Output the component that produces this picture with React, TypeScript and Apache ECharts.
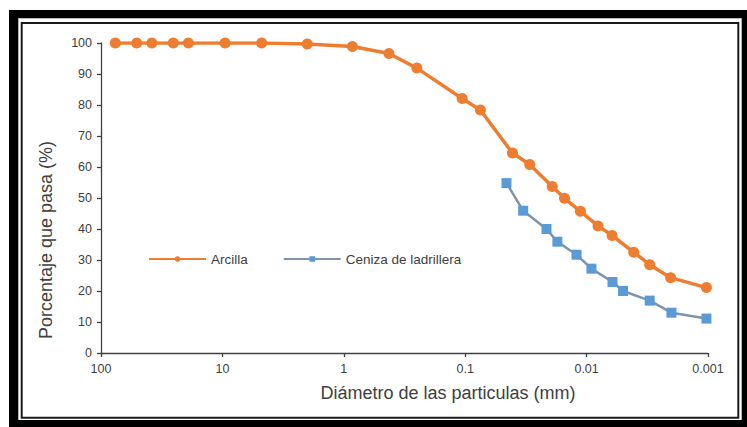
import React, { useEffect, useRef } from "react";
import * as echarts from "echarts";

const arcillaDiam = [76.2, 50.8, 38.1, 25.4, 19.05, 9.5, 4.75, 2.0, 0.85, 0.425, 0.25, 0.106, 0.075, 0.0408, 0.0294, 0.0192, 0.0152, 0.01124, 0.00805, 0.00617, 0.00409, 0.00302, 0.00203, 0.00103];
const arcillaPass = [100, 100, 100, 100, 100, 100, 100, 99.7, 98.9, 96.6, 91.9, 82.1, 78.4, 64.5, 60.8, 53.7, 49.9, 45.7, 41.0, 37.9, 32.5, 28.5, 24.3, 21.1];
const cenizaDiam = [0.0457, 0.0333, 0.0214, 0.0174, 0.0121, 0.00912, 0.00612, 0.00501, 0.00302, 0.002, 0.00103];
const cenizaPass = [54.8, 45.9, 40.0, 35.9, 31.7, 27.2, 22.9, 20.0, 16.9, 13.0, 11.1];
const xTickLabels = ["100", "10", "1", "0.1", "0.01", "0.001"];
const seriesNames = ["Arcilla", "Ceniza de ladrillera"];
const xTitle = "Diámetro de las particulas (mm)";
const yTitle = "Porcentaje que pasa (%)";

const FONT = "'Liberation Sans', Arial, sans-serif";

export default function App() {
  const ref = useRef<HTMLDivElement>(null);
  useEffect(() => {
    if (!ref.current) return;
    const chart = echarts.init(ref.current, null, { renderer: "svg" });
    chart.setOption({
      animation: false,
      backgroundColor: "transparent",
      textStyle: { fontFamily: FONT },
      grid: { left: 101, right: 39, top: 43, bottom: 74, containLabel: false },
      legend: {
        left: 148,
        top: 252,
        padding: 0,
        itemWidth: 57,
        itemHeight: 7,
        itemGap: 35,
        textStyle: { fontSize: 13.5, color: "#404040", fontFamily: FONT },
        data: seriesNames,
      },
      xAxis: {
        type: "log",
        logBase: 10,
        min: 0.001,
        max: 100,
        inverse: true,
        splitLine: { show: false },
        axisLine: { show: true, lineStyle: { color: "#404040", width: 1.3 } },
        axisTick: { show: true, length: 4, lineStyle: { color: "#404040", width: 1.3 } },
        minorTick: { show: false },
        axisLabel: {
          fontSize: 12.5,
          color: "#404040",
          margin: 9,
          fontFamily: FONT,
          formatter: (v: number) => {
            const e = Math.round(Math.log10(v));
            return xTickLabels[2 - e] ?? "";
          },
        },
      },
      yAxis: {
        type: "value",
        min: 0,
        max: 100,
        interval: 10,
        splitLine: { show: false },
        axisLine: { show: true, lineStyle: { color: "#404040", width: 1.3 } },
        axisTick: { show: true, length: 4, lineStyle: { color: "#404040", width: 1.3 } },
        axisLabel: { fontSize: 12.5, color: "#404040", margin: 9, fontFamily: FONT },
      },
      graphic: [
        { type: "rect", z: -10, silent: true, shape: { x: 9, y: 10, width: 800, height: 500 }, style: { fill: "#000" } },
        { type: "rect", z: -9, silent: true, shape: { x: 18.3, y: 18.3, width: 723.4, height: 401.7 }, style: { fill: "#fff" } },
        { type: "rect", z: -8, silent: true, shape: { x: 21.7, y: 23, width: 716.6, height: 394.7 }, style: { fill: "none", stroke: "#1a1a1a", lineWidth: 2 } },
        {
          type: "text",
          z: 10,
          x: 448,
          y: 393,
          style: { text: xTitle, fontSize: 18, fill: "#404040", fontFamily: FONT, align: "center", verticalAlign: "middle" },
        },
        {
          type: "text",
          z: 10,
          x: 46,
          y: 240,
          rotation: Math.PI / 2,
          style: { text: yTitle, fontSize: 18, fill: "#404040", fontFamily: FONT, align: "center", verticalAlign: "middle" },
        },
      ],
      series: [
        {
          name: seriesNames[0],
          type: "line",
          data: arcillaDiam.map((d, i) => [d, arcillaPass[i]]),
          symbol: "circle",
          symbolSize: 11,
          itemStyle: { color: "#ED7D31" },
          lineStyle: { color: "#ED7D31", width: 3.5 },
          z: 3,
        },
        {
          name: seriesNames[1],
          type: "line",
          data: cenizaDiam.map((d, i) => [d, cenizaPass[i]]),
          symbol: "rect",
          symbolSize: 10,
          itemStyle: { color: "#5B9BD5" },
          lineStyle: { color: "#7F93AC", width: 2.5 },
          z: 2,
        },
      ],
    });
    return () => chart.dispose();
  }, []);
  return (
    <div
      ref={ref}
      style={{ position: "absolute", left: 0, top: 0, width: 747, height: 427 }}
    />
  );
}
